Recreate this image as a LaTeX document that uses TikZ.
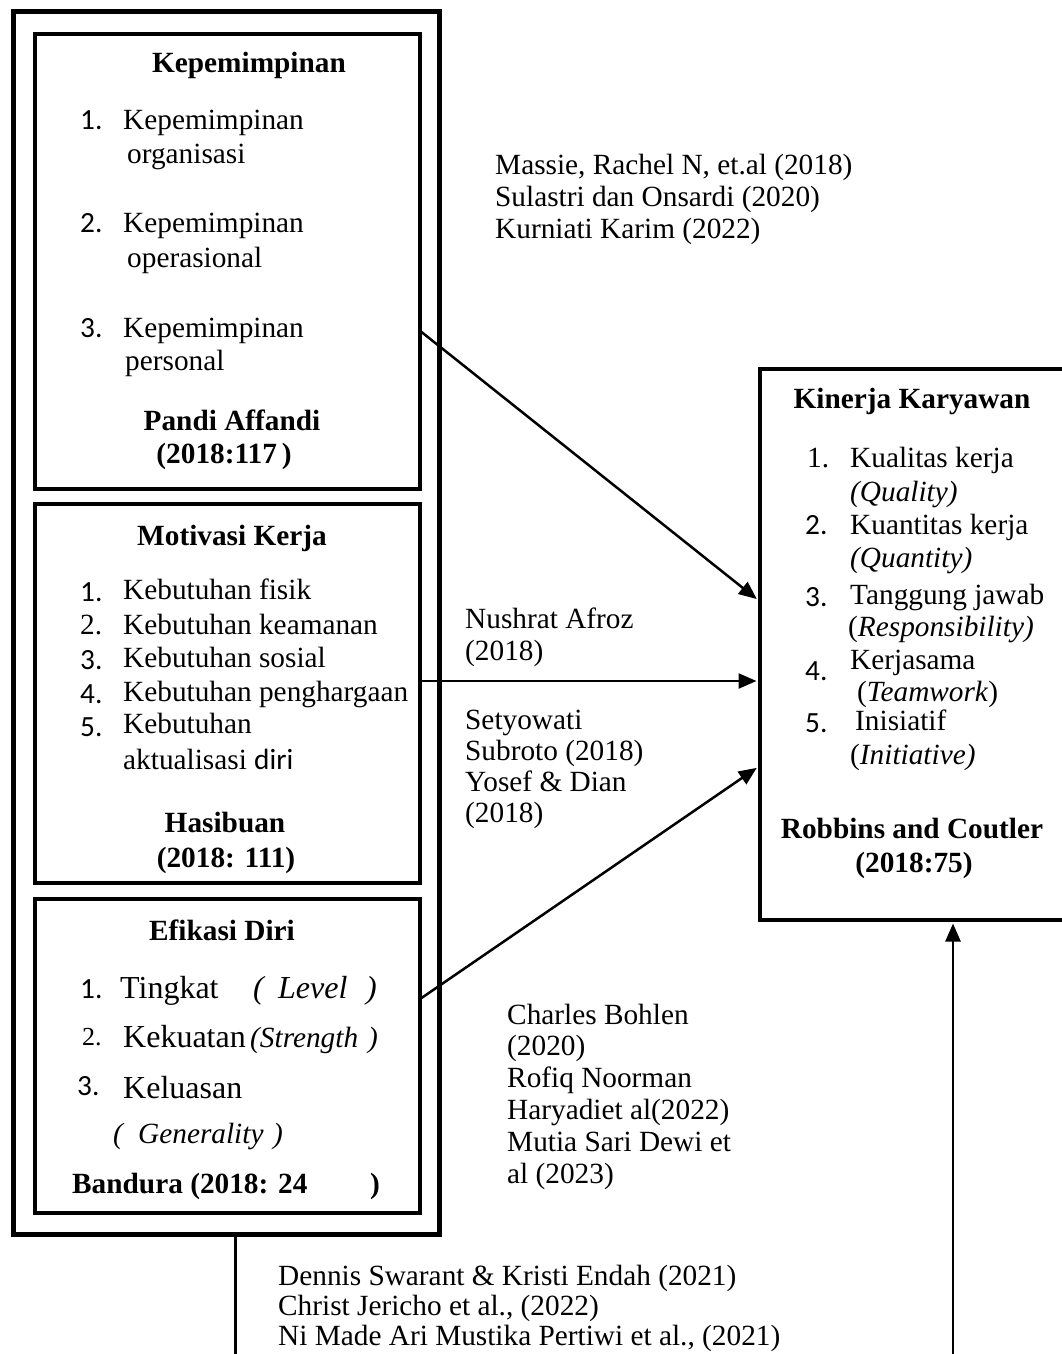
\documentclass[tikz,border=0pt]{standalone}
\usepackage{fontspec}
\setmainfont{Liberation Serif}
\newfontfamily\cbr{Carlito}
\usetikzlibrary{arrows.meta}
\newcommand\nfs{\fontsize{29.3}{33}\selectfont}
\newcommand\nbig{\fontsize{32}{36}\selectfont}
\begin{document}
\begin{tikzpicture}[x=1pt,y=-1pt,
  frame/.style={draw,line width=4pt,inner sep=0pt,anchor=north west},
  tx/.style={anchor=base west,inner sep=0pt,font=\nfs},
  ttl/.style={anchor=base,inner sep=0pt,font=\nfs\bfseries},
  num/.style={anchor=base west,inner sep=0pt,font=\nfs\cbr},
  it/.style={anchor=base west,inner sep=0pt,font=\nfs\itshape},
  bigt/.style={anchor=base west,inner sep=0pt,font=\nbig},
  bigit/.style={anchor=base west,inner sep=0pt,font=\nbig\itshape},
  conn/.style={line width=2.5pt},
  arr/.style={conn,shorten >=1.5pt,-{Triangle[length=18pt,width=15pt]}}]
\useasboundingbox[fill=white] (0,0) rectangle (1062,1354);

% frames
\node[frame,line width=5pt,minimum width=426pt,minimum height=1222.5pt] (outer) at (11,9.5) {};
\node[frame,minimum width=384.5pt,minimum height=454.5pt] (kep) at (33,32) {};
\node[frame,minimum width=384.5pt,minimum height=379.5pt] (mot) at (33,501.5) {};
\node[frame,minimum width=384.5pt,minimum height=314.5pt] (efi) at (33,896.5) {};
\node[frame,minimum width=330pt,minimum height=551pt] (kin) at (758,367) {};

% box 1
\node[ttl] (k0) at (249,72) {Kepemimpinan};
\node[num] (k1n) at (80,129) {1.};
\node[tx] (k1a) at (123,129) {Kepemimpinan};
\node[tx] (k1b) at (127,163) {organisasi};
\node[num] (k2n) at (80,232) {2.};
\node[tx] (k2a) at (123,232) {Kepemimpinan};
\node[tx] (k2b) at (127,267) {operasional};
\node[num] (k3n) at (80,337) {3.};
\node[tx] (k3a) at (123,337) {Kepemimpinan};
\node[tx] (k3b) at (125,370) {personal};
\node[ttl] (k4) at (232,430) {Pandi Affandi};
\node[ttl] (k5) at (224,463) {(2018:117\,)};

% box 2
\node[ttl] (m0) at (232,545) {Motivasi Kerja};
\node[num] (m1n) at (80,601) {1.};
\node[tx] (m1) at (123,599) {Kebutuhan fisik};
\node[tx] (m2n) at (80,634) {2.};
\node[tx] (m2) at (123,634) {Kebutuhan keamanan};
\node[num] (m3n) at (80,669) {3.};
\node[tx] (m3) at (123,667) {Kebutuhan sosial};
\node[num] (m4n) at (80,703) {4.};
\node[tx] (m4) at (123,701) {Kebutuhan penghargaan};
\node[num] (m5n) at (80,736) {5.};
\node[tx] (m5) at (123,733) {Kebutuhan};
\node[tx] (m6) at (123,769) {aktualisasi {\cbr diri}};
\node[ttl] (m7) at (225,832) {Hasibuan};
\node[ttl] (m8) at (226,867) {(2018: 111)};

% box 3
\node[ttl] (e0) at (222,940) {Efikasi Diri};
\node[num] (e1n) at (80,998) {1.};
\node[bigt] (e1) at (120,998) {Tingkat};
\node[bigit] (e1p) at (253,998) {(};
\node[bigit] (e1l) at (278,998) {Level};
\node[bigit] (e1q) at (366,998) {)};
\node[tx,font=\fontsize{26}{30}\selectfont] (e2n) at (82,1045) {2.};
\node[bigt] (e2) at (123,1047) {Kekuatan};
\node[it] (e2s) at (250,1047) {(Strength};
\node[it] (e2q) at (368,1047) {)};
\node[num] (e3n) at (77,1095) {3.};
\node[bigt] (e3) at (123,1098) {Keluasan};
\node[it] (e4p) at (113,1143) {(};
\node[it] (e4) at (138,1143) {Generality};
\node[it] (e4q) at (273,1143) {)};
\node[tx,font=\nfs\bfseries] (e5) at (72,1193) {Bandura (2018: 24};
\node[tx,font=\nfs\bfseries] (e5q) at (370,1193) {)};

% right box
\node[ttl] (r0) at (912,408) {Kinerja Karyawan};
\node[tx] (r1n) at (807,467) {1.};
\node[tx] (r1) at (850,467) {Kualitas kerja};
\node[it] (r1i) at (850,501) {(Quality)};
\node[num] (r2n) at (805,534) {2.};
\node[tx] (r2) at (850,534) {Kuantitas kerja};
\node[it] (r2i) at (850,567) {(Quantity)};
\node[num] (r3n) at (805,606) {3.};
\node[tx] (r3) at (850,604) {Tanggung jawab};
\node[tx] (r3i) at (848,636) {(\textit{Responsibility)}};
\node[num] (r4n) at (805,680) {4.};
\node[tx] (r4) at (850,669) {Kerjasama};
\node[tx] (r4i) at (857,701) {(\textit{Teamwork})};
\node[num] (r5n) at (805,732) {5.};
\node[tx] (r5) at (855,730) {Inisiatif};
\node[tx] (r5i) at (850,764) {(\textit{Initiative)}};
\node[ttl] (r6) at (912,838) {Robbins and Coutler};
\node[ttl] (r7) at (914,872) {(2018:75)};

% reference labels
\node[tx] (a1) at (495,174) {Massie, Rachel N, et.al (2018)};
\node[tx] (a2) at (495,206) {Sulastri dan Onsardi (2020)};
\node[tx] (a3) at (495,238) {Kurniati Karim (2022)};
\node[tx] (b1) at (465,628) {Nushrat Afroz};
\node[tx] (b2) at (465,660) {(2018)};
\node[tx] (c1) at (465,729) {Setyowati};
\node[tx] (c2) at (465,760) {Subroto (2018)};
\node[tx] (c3) at (465,791) {Yosef \& Dian};
\node[tx] (c4) at (465,822) {(2018)};
\node[tx] (d1) at (507,1024) {Charles Bohlen};
\node[tx] (d2) at (507,1055) {(2020)};
\node[tx] (d3) at (507,1087) {Rofiq Noorman};
\node[tx] (d4) at (507,1119) {Haryadiet al(2022)};
\node[tx] (d5) at (507,1151) {Mutia Sari Dewi et};
\node[tx] (d6) at (507,1183) {al (2023)};
\node[tx] (f1) at (278,1285) {Dennis Swarant \& Kristi Endah (2021)};
\node[tx] (f2) at (278,1315) {Christ Jericho et al., (2022)};
\node[tx] (f3) at (278,1345) {Ni Made Ari Mustika Pertiwi et al., (2021)};

% connectors
\draw[arr] ([yshift=-70.75pt]kep.east) -- ([yshift=44.5pt]kin.west);
\draw[arr] ([yshift=12.25pt]mot.east) -- ([yshift=-36.5pt]kin.west);
\draw[arr] ([yshift=57.75pt]efi.east) -- ([yshift=-122.5pt]kin.west);
\coordinate (bl) at (235.5,1354);
\coordinate (br) at (953,1354);
\draw[conn] (outer.south -| bl) -- (bl);
\draw[arr] (br) -- (br |- kin.south);
\end{tikzpicture}
\end{document}
